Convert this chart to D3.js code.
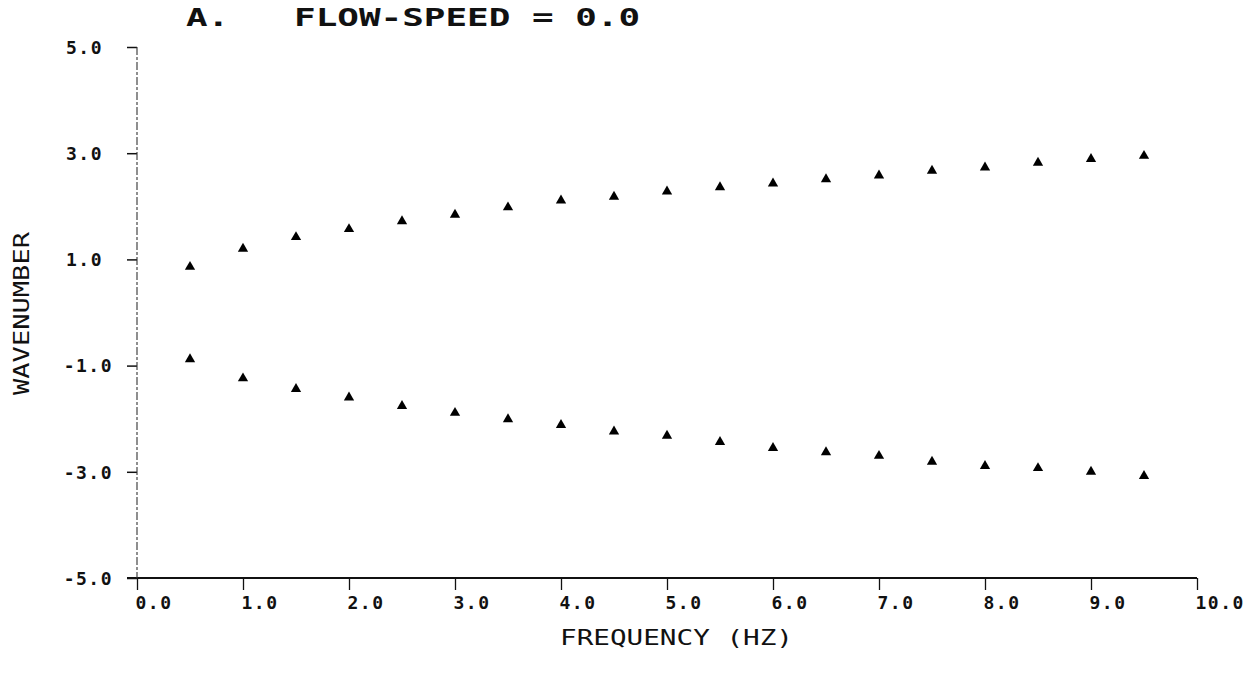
<!DOCTYPE html>
<html>
<head>
<meta charset="utf-8">
<script src="https://cdn.jsdelivr.net/npm/d3@7"></script>
<style>
  body { margin: 0; background: #fff; }
  svg { display: block; }
  text { fill: #111; }
</style>
</head>
<body>
<svg></svg>
<script>
const width = 1249;
const height = 677;

// frequency (Hz) of each measured point
const frequencies = [0.5, 1.0, 1.5, 2.0, 2.5, 3.0, 3.5, 4.0, 4.5, 5.0, 5.5, 6.0, 6.5, 7.0, 7.5, 8.0, 8.5, 9.0, 9.5];
// wavenumber, upper (positive) branch
const upperBranch = [0.86, 1.20, 1.42, 1.57, 1.72, 1.84, 1.98, 2.11, 2.18, 2.28, 2.36, 2.43, 2.51, 2.58, 2.67, 2.73, 2.82, 2.89, 2.95];
// wavenumber, lower (negative) branch
const lowerBranch = [-0.88, -1.24, -1.44, -1.60, -1.76, -1.89, -2.01, -2.12, -2.24, -2.32, -2.44, -2.55, -2.63, -2.70, -2.81, -2.89, -2.93, -3.00, -3.08];

const xTicks = [0, 1, 2, 3, 4, 5, 6, 7, 8, 9, 10];
const yTicks = [-5, -3, -1, 1, 3, 5];

const titleText = "A.   FLOW-SPEED = 0.0";
const xTitle = "FREQUENCY (HZ)";
const yTitle = "WAVENUMBER";

const svg = d3.select('svg')
  .attr('width', width)
  .attr('height', height)

const x = d3.scaleLinear().domain([0, 10]).range([137, 1197])
const y = d3.scaleLinear().domain([-5, 5]).range([578, 47])

// plotter style labels use a plain hyphen for negatives
const fmt = d => d.toFixed(1)

// x axis
const xAxis = svg.append('g')
  .attr('transform', `translate(0,${y(-5)})`)
  .call(d3.axisBottom(x).tickValues(xTicks).tickFormat(fmt).tickSize(12).tickSizeOuter(0))

xAxis.select('.domain').remove()
xAxis.selectAll('.tick line').attr('stroke', '#111').attr('stroke-width', 1.3)
xAxis.selectAll('.tick text')
  .attr('text-anchor', 'start')
  .attr('x', -2)
  .attr('y', 18)
  .attr('font-family', 'DejaVu Sans Mono')
  .attr('font-weight', 'bold')
  .attr('font-size', 18)
  .attr('letter-spacing', 1.5)

svg.append('line')
  .attr('x1', x(0) - 10).attr('x2', x(10))
  .attr('y1', y(-5)).attr('y2', y(-5))
  .attr('stroke', '#111')
  .attr('stroke-width', 2.2)

// y axis
const yAxis = svg.append('g')
  .attr('transform', `translate(${x(0)},0)`)
  .call(d3.axisLeft(y).tickValues(yTicks).tickFormat(fmt).tickSize(10).tickSizeOuter(0))

yAxis.select('.domain').remove()
yAxis.selectAll('.tick line').attr('stroke', '#111').attr('stroke-width', 1.5)
yAxis.selectAll('.tick text')
  .attr('text-anchor', 'end')
  .attr('x', d => d < 0 ? -24 : -34)
  .attr('dy', '0.35em')
  .attr('font-family', 'DejaVu Sans Mono')
  .attr('font-weight', 'bold')
  .attr('font-size', 18)
  .attr('letter-spacing', 1.5)

svg.append('line')
  .attr('x1', x(0)).attr('x2', x(0))
  .attr('y1', y(5)).attr('y2', y(-5))
  .attr('stroke', '#333')
  .attr('stroke-width', 1.1)
  .attr('stroke-dasharray', '8,2,3,2')

// data points
const tri = d3.symbol().type(d3.symbolTriangle).size(46)

const series = [upperBranch, lowerBranch]
series.forEach(vals => {
  svg.append('g')
    .selectAll('path')
    .data(frequencies.map((f, i) => [f, vals[i]]))
    .join('path')
      .attr('d', tri)
      .attr('fill', '#000')
      .attr('transform', d => `translate(${x(d[0])},${y(d[1])})`)
})

// titles
svg.append('text')
  .attr('x', 186)
  .attr('y', 26)
  .attr('textLength', 454)
  .attr('lengthAdjust', 'spacingAndGlyphs')
  .style('white-space', 'pre')
  .attr('font-family', 'DejaVu Sans Mono')
  .attr('font-weight', 'bold')
  .attr('font-size', 24)
  .text(titleText)

svg.append('text')
  .attr('x', 560)
  .attr('y', 645)
  .attr('textLength', 233)
  .attr('lengthAdjust', 'spacingAndGlyphs')
  .attr('font-family', 'DejaVu Sans Mono')
  .attr('font-size', 21)
  .text(xTitle)

svg.append('text')
  .attr('transform', 'translate(29,395) rotate(-90)')
  .attr('textLength', 163)
  .attr('lengthAdjust', 'spacingAndGlyphs')
  .attr('font-family', 'DejaVu Sans Mono')
  .attr('font-size', 21)
  .text(yTitle)
</script>
</body>
</html>
